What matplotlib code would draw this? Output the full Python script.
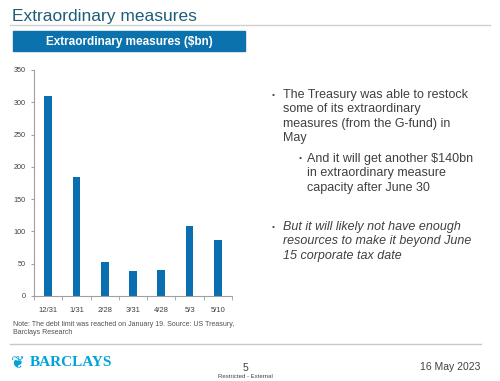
import matplotlib.pyplot as plt
from matplotlib.patches import Rectangle

plt.rcParams['font.family'] = ['Liberation Sans', 'DejaVu Sans']

dates = ['12/31', '1/31', '2/28', '3/31', '4/28', '5/3', '5/10']
measures = [309, 184, 53, 38, 40, 109, 87]
y_ticks = [0, 50, 100, 150, 200, 250, 300, 350]

W, H = 500, 381
fig = plt.figure(figsize=(5, 3.81), dpi=100)

def fx(px):
    return px / W

def fy(py):
    return 1 - py / H

# header
fig.text(fx(12), fy(16), 'Extraordinary measures', fontsize=12.5, color='#1f5d78',
         va='center', ha='left')
fig.add_artist(plt.Line2D([fx(10), fx(490)], [fy(25), fy(25)], color='#d0d0d0', lw=1))
fig.add_artist(Rectangle((fx(13), fy(51)), fx(245) - fx(13), fy(31) - fy(51),
                         transform=fig.transFigure, color='#0b72ad'))
fig.text(fx(129), fy(41.5), 'Extraordinary measures ($bn)', fontsize=8.5, color='white',
         fontweight='bold', ha='center', va='center')

# chart
ax = fig.add_axes([fx(34), fy(296), fx(232) - fx(34), fy(70) - fy(296)])
x = range(len(dates))
ax.bar(x, measures, width=0.27, color='#0a6fb0')
ax.set_xlim(-0.5, len(dates) - 0.5)
ax.set_ylim(0, 350)
ax.set_yticks(y_ticks)
ax.set_xticks(list(x))
ax.set_xticklabels(dates)
ax.set_xticks([i - 0.5 for i in range(len(dates) + 1)], minor=True)
ax.tick_params(axis='x', which='major', length=0, labelsize=5.5, colors='#404040', pad=8)
ax.tick_params(axis='x', which='minor', length=3, color='#a0a0a0')
ax.tick_params(axis='y', length=2.5, labelsize=5.2, colors='#404040', color='#a0a0a0')
for side in ['top', 'right']:
    ax.spines[side].set_visible(False)
for side in ['left', 'bottom']:
    ax.spines[side].set_color('#a0a0a0')
    ax.spines[side].set_linewidth(0.8)

# bullets
txt = '#404040'
fs = 9.0
lines = [
    (272, 283, 95, ['The Treasury was able to restock', 'some of its extraordinary',
                    'measures (from the G-fund) in', 'May'], 'normal'),
    (299, 307, 159, ['And it will get another $140bn', 'in extraordinary measure',
                     'capacity after June 30'], 'normal'),
    (272, 283, 227, ['But it will likely not have enough', 'resources to make it beyond June',
                     '15 corporate tax date'], 'italic'),
]
for bx, tx, ty, rows, style in lines:
    fig.text(fx(bx), fy(ty), '•', fontsize=6, color=txt, va='center', ha='left')
    for i, row in enumerate(rows):
        fig.text(fx(tx), fy(ty + i * 14.3), row, fontsize=fs, color=txt,
                 va='center', ha='left', style=style)

# footer
fig.text(fx(13), fy(325), 'Note: The debt limit was reached on January 19. Source: US Treasury,',
         fontsize=5, color='#505050', va='center')
fig.text(fx(13), fy(333), 'Barclays Research', fontsize=5, color='#505050', va='center')
fig.add_artist(plt.Line2D([fx(10), fx(481)], [fy(344), fy(344)], color='#c8c8c8', lw=1))
fig.text(fx(11), fy(362), '\u2766', fontsize=12, color='#00a3da', va='center', family='DejaVu Sans')
fig.text(fx(30), fy(362), 'BARCLAYS', fontsize=11, color='#00a3da', va='center',
         family='Liberation Serif', fontweight='bold')
fig.text(fx(245), fy(368), '5', fontsize=7.5, color='#404040', ha='center', va='center')
fig.text(fx(245), fy(377), 'Restricted - External', fontsize=4.3, color='#404040',
         ha='center', va='center')
fig.text(fx(480), fy(367), '16 May 2023', fontsize=7.5, color='#404040', ha='right', va='center')

fig.savefig('out.png', dpi=100)
